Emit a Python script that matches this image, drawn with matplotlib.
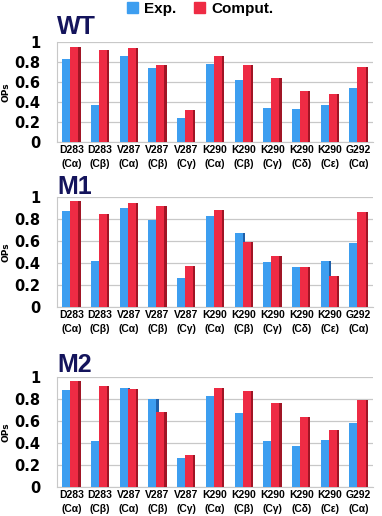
import numpy as np
import matplotlib.pyplot as plt
from matplotlib.patches import Patch

# residue / carbon labels
residues = ["D283", "D283", "V287", "V287", "V287", "K290", "K290", "K290", "K290", "K290", "G292"]
carbons = ["Cα", "Cβ", "Cα", "Cβ", "Cγ", "Cα", "Cβ", "Cγ", "Cδ", "Cε", "Cα"]

# order parameters
wt_exp = [0.83, 0.37, 0.86, 0.74, 0.24, 0.78, 0.62, 0.34, 0.33, 0.37, 0.54]
wt_comp = [0.95, 0.92, 0.94, 0.77, 0.32, 0.86, 0.77, 0.64, 0.51, 0.48, 0.75]
m1_exp = [0.87, 0.42, 0.90, 0.79, 0.26, 0.83, 0.67, 0.41, 0.36, 0.42, 0.58]
m1_comp = [0.96, 0.85, 0.95, 0.92, 0.37, 0.88, 0.59, 0.46, 0.36, 0.28, 0.86]
m2_exp = [0.88, 0.42, 0.90, 0.80, 0.26, 0.83, 0.67, 0.42, 0.37, 0.43, 0.58]
m2_comp = [0.96, 0.92, 0.89, 0.68, 0.29, 0.90, 0.87, 0.76, 0.64, 0.52, 0.79]

panels = [("WT", wt_exp, wt_comp), ("M1", m1_exp, m1_comp), ("M2", m2_exp, m2_comp)]

BLUE, BLUE_DK = "#3d9ef0", "#1f5fa8"
RED, RED_DK = "#ee2b44", "#a01525"
NAVY = "#14145c"

W, H = 382, 516
fig = plt.figure(figsize=(W / 100, H / 100), dpi=100)

# (top, bottom) of each plot area in pixels
rects = [(42, 142), (197, 307), (377, 487)]
title_y = [27, 187, 365]

x = np.arange(len(residues))
labels = [f"{r}\n({c})" for r, c in zip(residues, carbons)]
bw = 0.28

for (name, exp, comp), (top, bot), ty in zip(panels, rects, title_y):
    ax = fig.add_axes([57 / W, 1 - bot / H, 316 / W, (bot - top) / H])
    ax.set_xlim(-0.5, 10.5)
    ax.set_ylim(0, 1)
    # side faces for a little 3D look
    ax.bar(x - 0.04, exp, width=0.08, align="edge", color=BLUE_DK, zorder=2)
    ax.bar(x - 0.32, exp, width=bw, align="edge", color=BLUE, zorder=3)
    ax.bar(x + 0.24, comp, width=0.08, align="edge", color=RED_DK, zorder=4)
    ax.bar(x - 0.04, comp, width=bw, align="edge", color=RED, zorder=5)

    ax.set_yticks(np.arange(0, 1.01, 0.2))
    ax.set_yticklabels(["0", "0.2", "0.4", "0.6", "0.8", "1"])
    ax.yaxis.grid(True, color="#c8c8c8", lw=0.9)
    ax.set_axisbelow(True)
    for s in ["top", "right"]:
        ax.spines[s].set_visible(False)
    ax.spines["left"].set_color("#c8c8c8")
    ax.spines["bottom"].set_color("#c8c8c8")
    ax.tick_params(axis="y", length=0, pad=12, labelsize=10.5)
    for t in ax.get_yticklabels():
        t.set_fontweight("bold")
    ax.set_xticks(x)
    ax.set_xticklabels(labels, fontsize=7.5, fontweight="bold",
                       family="Liberation Sans", linespacing=1.5)
    ax.tick_params(axis="x", length=0, pad=2)
    ax.set_ylabel("OPs", fontsize=6.5, fontweight="bold")
    ax.yaxis.set_label_coords(-0.147, 0.5)

    fig.text(57 / W, 1 - ty / H, name, fontsize=18, fontweight="bold",
             color=NAVY, family="Liberation Sans", va="center", ha="left")

handles = [Patch(color=BLUE, label="Exp."), Patch(color=RED, label="Comput.")]
fig.legend(handles=handles, loc="center", bbox_to_anchor=(200 / W, 1 - 9 / H),
           ncol=2, frameon=False,
           prop={"weight": "bold", "size": 11, "family": "Liberation Sans"},
           handlelength=0.7, handleheight=0.7, handletextpad=0.4, columnspacing=1.2)

fig.savefig("out.png", dpi=100)
